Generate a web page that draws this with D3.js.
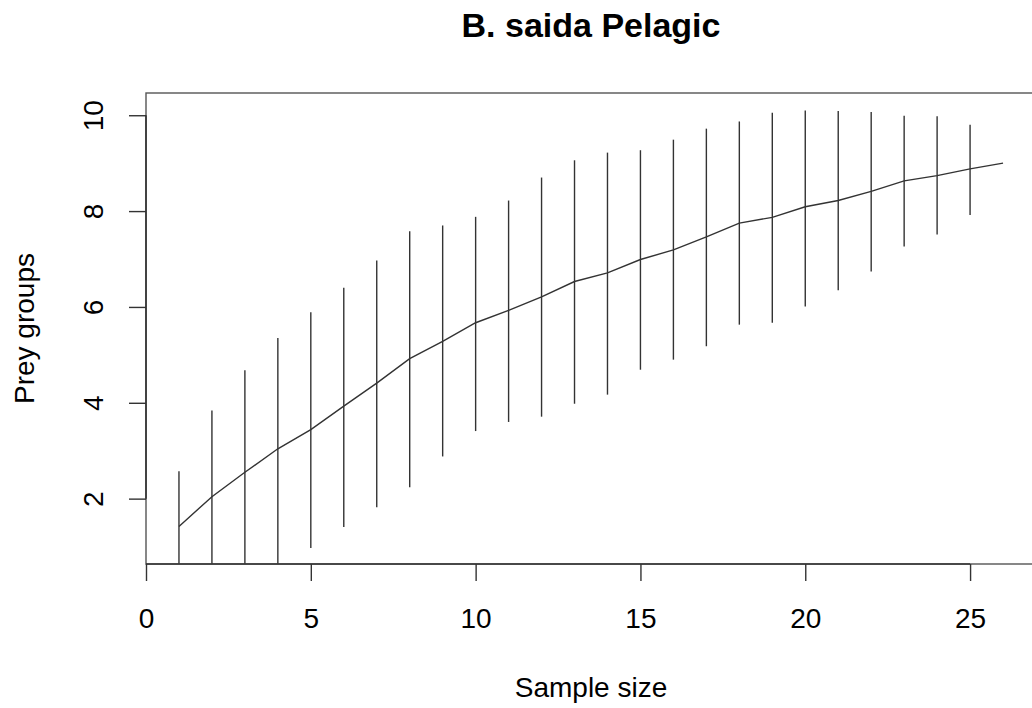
<!DOCTYPE html>
<html>
<head>
<meta charset="utf-8">
<script src="https://cdn.jsdelivr.net/npm/d3@7"></script>
<style>
  body { margin: 0; background: #fff; }
  text { font-family: "Liberation Sans", Arial, Helvetica, sans-serif; fill: #000; }
</style>
</head>
<body>
<div id="chart"></div>
<script>
// sample sizes (x) and accumulated prey groups
var samples = [1, 2, 3, 4, 5, 6, 7, 8, 9, 10, 11, 12, 13, 14, 15, 16, 17, 18, 19, 20, 21, 22, 23, 24, 25, 26];
var richness = [1.42, 2.04, 2.55, 3.04, 3.44, 3.93, 4.41, 4.92, 5.28, 5.67, 5.93, 6.21, 6.53,
                6.71, 6.99, 7.19, 7.46, 7.75, 7.87, 8.09, 8.22, 8.41, 8.63, 8.74, 8.88, 9.00];
var upper = [2.57, 3.84, 4.68, 5.35, 5.89, 6.40, 6.97, 7.58, 7.70, 7.88, 8.22, 8.70, 9.06,
             9.22, 9.27, 9.49, 9.72, 9.87, 10.05, 10.10, 10.09, 10.07, 9.99, 9.98, 9.80, 9.00];
var lower = [0.27, 0.24, 0.42, 0.60, 0.97, 1.41, 1.82, 2.24, 2.88, 3.41, 3.60, 3.71, 3.98,
             4.17, 4.69, 4.90, 5.18, 5.63, 5.67, 6.01, 6.35, 6.74, 7.26, 7.51, 7.92, 9.00];
var xTicks = [0, 5, 10, 15, 20, 25];
var yTicks = [2, 4, 6, 8, 10];

var width = 1032, height = 708;
var plotLeft = 146, plotRight = 1036, plotTop = 93, plotBottom = 564;
var ink = "#333";

var svg = d3.select("#chart").append("svg")
  .attr("width", width)
  .attr("height", height);

// R-style limits: data range padded by 4%
var x = d3.scaleLinear().domain([0, 27]).range([plotLeft, plotRight]);
var y = d3.scaleLinear().domain([0.636, 10.464]).range([plotBottom, plotTop]);

svg.append("clipPath").attr("id", "plotclip")
  .append("rect")
  .attr("x", plotLeft).attr("y", plotTop)
  .attr("width", plotRight - plotLeft).attr("height", plotBottom - plotTop);

var plot = svg.append("g").attr("clip-path", "url(#plotclip)");

// error bars
var rows = samples.map(function (s, i) {
  return { s: s, m: richness[i], hi: upper[i], lo: lower[i] };
});

plot.selectAll("line.bar")
  .data(rows.filter(function (d) { return d.hi > d.lo; }))
  .enter()
  .append("line")
  .attr("class", "bar")
  .attr("x1", function (d) { return x(d.s); })
  .attr("x2", function (d) { return x(d.s); })
  .attr("y1", function (d) { return y(d.hi); })
  .attr("y2", function (d) { return y(d.lo); })
  .attr("stroke", ink)
  .attr("stroke-width", 1.4);

// mean curve
var line = d3.line()
  .x(function (d) { return x(d.s); })
  .y(function (d) { return y(d.m); });

plot.append("path")
  .datum(rows)
  .attr("d", line)
  .attr("fill", "none")
  .attr("stroke", ink)
  .attr("stroke-width", 1.4);

// box
svg.append("rect")
  .attr("x", plotLeft).attr("y", plotTop)
  .attr("width", plotRight - plotLeft).attr("height", plotBottom - plotTop)
  .attr("fill", "none")
  .attr("stroke", "#555")
  .attr("stroke-width", 1.4);

// x axis
var xAxis = svg.append("g")
  .attr("transform", "translate(0," + plotBottom + ")")
  .call(d3.axisBottom(x).tickValues(xTicks).tickSize(17).tickSizeOuter(0));
xAxis.select(".domain").remove();
xAxis.selectAll(".tick line").attr("stroke", ink).attr("stroke-width", 1.4);
xAxis.selectAll(".tick text")
  .attr("y", 64).attr("dy", 0)
  .style("font-size", "28px")
  .style("font-family", "'Liberation Sans', Arial, sans-serif")
  .attr("fill", "#000");
xAxis.append("line")
  .attr("x1", x(xTicks[0])).attr("x2", x(xTicks[xTicks.length - 1]))
  .attr("stroke", ink).attr("stroke-width", 1.6);

// y axis
var yAxis = svg.append("g")
  .attr("transform", "translate(" + plotLeft + ",0)")
  .call(d3.axisLeft(y).tickValues(yTicks).tickSize(17).tickSizeOuter(0));
yAxis.select(".domain").remove();
yAxis.selectAll(".tick line").attr("stroke", ink).attr("stroke-width", 1.4);
yAxis.selectAll(".tick text")
  .attr("x", 0).attr("y", 0).attr("dy", 0)
  .attr("text-anchor", "middle")
  .attr("transform", "translate(-43,0) rotate(-90)")
  .style("font-size", "28px")
  .style("font-family", "'Liberation Sans', Arial, sans-serif")
  .attr("fill", "#000");
yAxis.append("line")
  .attr("y1", y(yTicks[0])).attr("y2", y(yTicks[yTicks.length - 1]))
  .attr("stroke", ink).attr("stroke-width", 1.6);

// titles
var cx = (plotLeft + plotRight) / 2;
svg.append("text")
  .attr("x", cx).attr("y", 37)
  .attr("text-anchor", "middle")
  .style("font-size", "34px")
  .style("font-weight", "bold")
  .text("B. saida Pelagic");

svg.append("text")
  .attr("x", cx).attr("y", 697)
  .attr("text-anchor", "middle")
  .style("font-size", "28px")
  .text("Sample size");

svg.append("text")
  .attr("transform", "translate(34," + (plotTop + plotBottom) / 2 + ") rotate(-90)")
  .attr("text-anchor", "middle")
  .style("font-size", "28px")
  .text("Prey groups");
</script>
</body>
</html>
